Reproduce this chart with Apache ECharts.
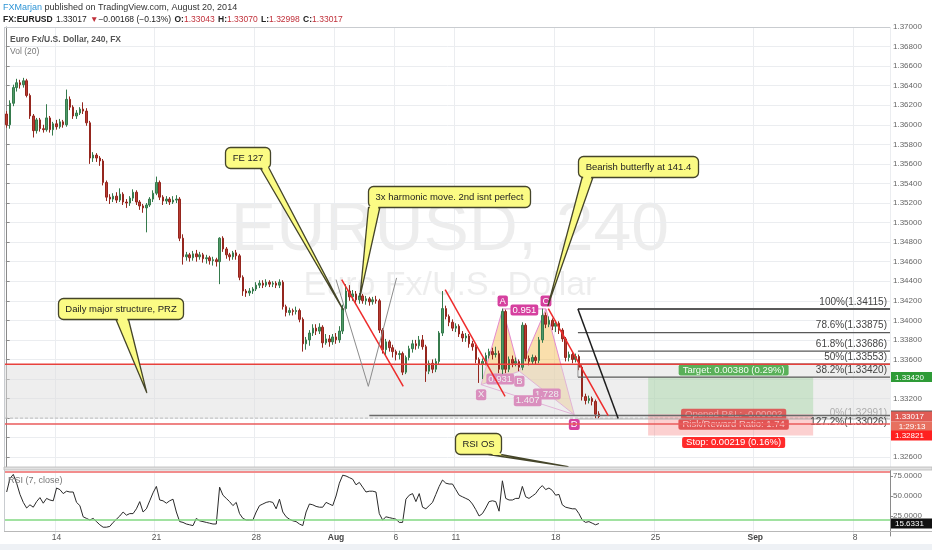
<!DOCTYPE html>
<html><head><meta charset="utf-8">
<script src="https://cdn.jsdelivr.net/npm/echarts@6/dist/echarts.min.js"></script>
<style>html,body{margin:0;padding:0;background:#fff}#c{width:932px;height:550px}</style>
</head><body><div id="c"></div>
<script>
// ---------------- DATA ----------------
const tradingDays = ['2014-07-09','2014-07-10','2014-07-11',
 '2014-07-14','2014-07-15','2014-07-16','2014-07-17','2014-07-18',
 '2014-07-21','2014-07-22','2014-07-23','2014-07-24','2014-07-25',
 '2014-07-28','2014-07-29','2014-07-30','2014-07-31','2014-08-01',
 '2014-08-04','2014-08-05','2014-08-06','2014-08-07','2014-08-08',
 '2014-08-11','2014-08-12','2014-08-13','2014-08-14','2014-08-15',
 '2014-08-18','2014-08-19','2014-08-20','2014-08-21','2014-08-22',
 '2014-08-25','2014-08-26','2014-08-27','2014-08-28','2014-08-29',
 '2014-09-01','2014-09-02','2014-09-03','2014-09-04','2014-09-05',
 '2014-09-08','2014-09-09'];
const barHours = ['00:00','04:00','08:00','12:00','16:00','20:00'];
const firstDayFromSlot = 3;   // first day starts at 12:00
const lastDaySlots = 5;       // last day ends at 16:00
const tickLabels = [['2014-07-14','14'],['2014-07-21','21'],['2014-07-28','28'],['2014-08-01','Aug'],
 ['2014-08-06','6'],['2014-08-11','11'],['2014-08-18','18'],['2014-08-25','25'],['2014-09-01','Sep'],['2014-09-08','8']];

// [open, close, low, high]
const ohlc = [
[1.3611,1.3600,1.3597,1.3614],[1.3600,1.3622,1.3596,1.3625],[1.3622,1.3638,1.3619,1.3641],[1.3638,1.3643,1.3634,1.3647],
[1.3643,1.3641,1.3637,1.3646],[1.3641,1.3645,1.3638,1.3648],[1.3645,1.3630,1.3628,1.3647],[1.3630,1.3609,1.3606,1.3632],
[1.3609,1.3594,1.3587,1.3611],[1.3594,1.3605,1.3591,1.3607],[1.3605,1.3596,1.3593,1.3607],[1.3596,1.3595,1.3592,1.3600],
[1.3595,1.3607,1.3593,1.3621],[1.3607,1.3595,1.3592,1.3609],[1.3595,1.3601,1.3589,1.3603],[1.3601,1.3598,1.3595,1.3605],
[1.3598,1.3603,1.3596,1.3606],[1.3603,1.3600,1.3597,1.3605],[1.3600,1.3626,1.3598,1.3636],[1.3626,1.3618,1.3615,1.3629],
[1.3618,1.3609,1.3606,1.3620],[1.3609,1.3612,1.3606,1.3615],[1.3612,1.3616,1.3610,1.3618],[1.3616,1.3614,1.3611,1.3623],
[1.3614,1.3602,1.3599,1.3617],[1.3602,1.3566,1.3560,1.3604],[1.3566,1.3569,1.3562,1.3572],[1.3569,1.3566,1.3562,1.3571],
[1.3566,1.3563,1.3558,1.3568],[1.3563,1.3541,1.3538,1.3565],[1.3541,1.3526,1.3522,1.3543],[1.3526,1.3524,1.3519,1.3529],
[1.3524,1.3527,1.3521,1.3530],[1.3527,1.3523,1.3520,1.3531],[1.3523,1.3529,1.3521,1.3535],[1.3529,1.3521,1.3518,1.3531],
[1.3521,1.3520,1.3515,1.3524],[1.3520,1.3525,1.3517,1.3527],[1.3525,1.3531,1.3522,1.3534],[1.3531,1.3521,1.3518,1.3533],
[1.3521,1.3517,1.3513,1.3523],[1.3517,1.3515,1.3510,1.3519],[1.3515,1.3518,1.3490,1.3520],[1.3518,1.3524,1.3516,1.3526],
[1.3524,1.3530,1.3521,1.3533],[1.3530,1.3541,1.3528,1.3547],[1.3541,1.3526,1.3523,1.3543],[1.3526,1.3522,1.3518,1.3528],
[1.3522,1.3524,1.3519,1.3527],[1.3524,1.3521,1.3518,1.3526],[1.3521,1.3523,1.3519,1.3527],[1.3523,1.3524,1.3520,1.3528],
[1.3524,1.3484,1.3481,1.3526],[1.3484,1.3465,1.3457,1.3488],[1.3465,1.3467,1.3461,1.3470],[1.3467,1.3464,1.3460,1.3469],
[1.3464,1.3468,1.3461,1.3471],[1.3468,1.3465,1.3460,1.3472],[1.3465,1.3467,1.3462,1.3470],[1.3467,1.3463,1.3459,1.3469],
[1.3463,1.3464,1.3458,1.3467],[1.3464,1.3461,1.3457,1.3466],[1.3461,1.3462,1.3456,1.3465],[1.3462,1.3460,1.3455,1.3464],
[1.3460,1.3484,1.3437,1.3485],[1.3484,1.3473,1.3470,1.3486],[1.3473,1.3467,1.3463,1.3475],[1.3467,1.3465,1.3461,1.3469],
[1.3465,1.3469,1.3462,1.3471],[1.3469,1.3466,1.3462,1.3472],[1.3466,1.3444,1.3441,1.3468],[1.3444,1.3430,1.3425,1.3446],
[1.3430,1.3428,1.3424,1.3432],[1.3428,1.3430,1.3425,1.3433],[1.3430,1.3432,1.3427,1.3434],[1.3432,1.3436,1.3430,1.3439],
[1.3436,1.3438,1.3433,1.3441],[1.3438,1.3436,1.3433,1.3441],[1.3436,1.3439,1.3434,1.3442],[1.3439,1.3437,1.3434,1.3441],
[1.3437,1.3438,1.3434,1.3440],[1.3438,1.3436,1.3433,1.3440],[1.3436,1.3439,1.3433,1.3442],[1.3439,1.3414,1.3411,1.3441],
[1.3414,1.3408,1.3404,1.3416],[1.3408,1.3410,1.3405,1.3413],[1.3410,1.3409,1.3405,1.3412],[1.3409,1.3410,1.3406,1.3414],
[1.3410,1.3401,1.3398,1.3412],[1.3401,1.3376,1.3368,1.3403],[1.3376,1.3380,1.3370,1.3383],[1.3380,1.3387,1.3374,1.3390],
[1.3387,1.3392,1.3384,1.3396],[1.3392,1.3389,1.3385,1.3396],[1.3389,1.3393,1.3386,1.3397],[1.3393,1.3377,1.3372,1.3395],
[1.3377,1.3381,1.3375,1.3386],[1.3381,1.3378,1.3373,1.3385],[1.3378,1.3383,1.3375,1.3386],[1.3383,1.3380,1.3376,1.3387],
[1.3380,1.3389,1.3377,1.3394],[1.3389,1.3412,1.3386,1.3416],[1.3412,1.3430,1.3409,1.3437],[1.3430,1.3424,1.3420,1.3436],
[1.3424,1.3427,1.3420,1.3431],[1.3427,1.3421,1.3418,1.3430],[1.3421,1.3425,1.3417,1.3428],[1.3425,1.3420,1.3417,1.3427],
[1.3420,1.3422,1.3416,1.3425],[1.3422,1.3419,1.3415,1.3424],[1.3419,1.3421,1.3416,1.3424],[1.3421,1.3420,1.3417,1.3425],
[1.3420,1.3390,1.3387,1.3422],[1.3390,1.3370,1.3366,1.3392],[1.3370,1.3378,1.3364,1.3381],[1.3378,1.3372,1.3368,1.3380],
[1.3372,1.3368,1.3362,1.3375],[1.3368,1.3365,1.3359,1.3370],[1.3365,1.3366,1.3360,1.3369],[1.3366,1.3347,1.3344,1.3368],
[1.3347,1.3362,1.3345,1.3364],[1.3362,1.3371,1.3359,1.3374],[1.3371,1.3376,1.3367,1.3380],[1.3376,1.3374,1.3370,1.3380],
[1.3374,1.3380,1.3371,1.3384],[1.3380,1.3373,1.3370,1.3385],[1.3373,1.3348,1.3337,1.3375],[1.3348,1.3356,1.3345,1.3359],
[1.3356,1.3350,1.3346,1.3360],[1.3350,1.3358,1.3347,1.3361],[1.3358,1.3387,1.3355,1.3389],[1.3387,1.3412,1.3384,1.3430],
[1.3412,1.3404,1.3401,1.3415],[1.3404,1.3398,1.3394,1.3406],[1.3398,1.3392,1.3389,1.3401],[1.3392,1.3394,1.3388,1.3397],
[1.3394,1.3386,1.3383,1.3396],[1.3386,1.3382,1.3378,1.3389],[1.3382,1.3384,1.3378,1.3387],[1.3384,1.3376,1.3372,1.3386],
[1.3376,1.3373,1.3369,1.3379],[1.3373,1.3360,1.3356,1.3375],[1.3360,1.3355,1.3336,1.3362],[1.3355,1.3358,1.3340,1.3361],
[1.3358,1.3364,1.3354,1.3367],[1.3364,1.3368,1.3361,1.3371],[1.3368,1.3365,1.3360,1.3372],[1.3365,1.3366,1.3362,1.3373],
[1.3366,1.3350,1.3346,1.3369],[1.3350,1.3409,1.3345,1.3412],[1.3409,1.3350,1.3346,1.3411],[1.3350,1.3360,1.3347,1.3363],
[1.3360,1.3356,1.3352,1.3364],[1.3356,1.3358,1.3353,1.3362],[1.3358,1.3352,1.3348,1.3360],[1.3352,1.3395,1.3349,1.3398],
[1.3395,1.3361,1.3358,1.3397],[1.3361,1.3358,1.3354,1.3364],[1.3358,1.3362,1.3355,1.3365],[1.3362,1.3359,1.3355,1.3364],
[1.3359,1.3380,1.3356,1.3383],[1.3380,1.3405,1.3377,1.3412],[1.3405,1.3396,1.3392,1.3408],[1.3396,1.3400,1.3393,1.3404],
[1.3400,1.3394,1.3390,1.3402],[1.3394,1.3397,1.3388,1.3400],[1.3397,1.3390,1.3386,1.3399],[1.3390,1.3381,1.3378,1.3392],
[1.3381,1.3362,1.3358,1.3383],[1.3362,1.3365,1.3358,1.3368],[1.3365,1.3360,1.3356,1.3367],[1.3360,1.3363,1.3357,1.3366],
[1.3363,1.3352,1.3349,1.3365],[1.3352,1.3322,1.3318,1.3354],[1.3322,1.3318,1.3314,1.3325],[1.3318,1.3320,1.3315,1.3323],
[1.3320,1.3317,1.3313,1.3322],[1.3317,1.3304,1.3300,1.3319],[1.33043,1.33017,1.32998,1.33070]
];

const rsi = [55,72,77,66,52,42,35,39,36,43, 48,41,47,45,44,60,58,53,56,55,
 55,42,38,24,22,20,22,18,14,11, 11,12,17,21,25,30,26,28,28,34,
 43,30,34,44,54,62,45,44,41,44, 46,30,18,17,15,14,13,22,19,18,
 17,16,15,15,61,51,47,43,38,42, 28,22,20,20,20,30,38,40,42,43,
 42,34,46,30,24,21,19,18,15,13, 30,40,39,37,36,36,42,40,38,50,
 66,76,75,73,71,64,67,61,55,56, 56,55,28,20,24,23,22,21,17,17,
 46,51,53,43,53,36,34,38,42,52, 62,70,66,65,65,58,51,49,47,45,
 40,33,25,28,35,43,44,43,31,69, 47,45,45,47,47,62,49,47,50,53,
 59,63,58,60,57,51,52,39,36,35, 34,34,28,20,17,18,16,14,15.6331];
const rsiUpper = 80, rsiLower = 20;

// drawings in data coordinates: [barIndex, price]
const przTop = 1.3355, przBottom = 1.3300, przLow = 1.3294;
const fibLevels = [['100%',1.34115],['78.6%',1.33875],['61.8%',1.33686],['50%',1.33553],['38.2%',1.33420]];
const fibZero = ['0%',1.32991];
const fibExt = ['127.2%',1.33026];
const fibStartBar = 171.7, fibExtStartBar = 109, chartEndBar = 265.5, chartStartBar = -0.5;
const redTrendLines = [[100.7,1.34417,119.2,1.33325],[131.8,1.34314,149.8,1.33223],[162.8,1.34120,180.8,1.33025]];
const grayVLine = [[99.0,1.34417],[108.7,1.33325],[117.2,1.34434]];
const blackDiagonal = [171.7,1.34115,183.8,1.32995];
const patternNames = ['X','A','B','C','D'];
const patternPoints = [[142.6,1.33342],[149.1,1.34117],[154.1,1.33479],[162.1,1.34117],[170.6,1.33036]];
const patternRatios = [['0.931',0,2],['0.951',1,3],['1.728',2,4],['1.407',0,4]];
const callouts = [
 ['FE 127',65.6,1.35777,101.1,1.34110],
 ['3x harmonic move. 2nd isnt perfect',108.6,1.35378,106.2,1.34243],
 ['Bearish butterfly at 141.4',171.7,1.35685,162.7,1.34151],
 ['Daily major structure, PRZ',15.4,1.34233,42.1,1.33261],
 ['RSI OS',134.8,1.32851,168.7,1.32504]
];
const position = {from:192.8, to:242.4, entry:1.3304, target:1.3342, stop:1.32821};
const positionTexts = ['Target: 0.00380 (0.29%)','Opened P&L: -0.00002','Risk/Reward Ratio: 1.74','Stop: 0.00219 (0.16%)'];
const priceTags = [[1.33026,'1.33026'],[1.33420,'1.33420'],[1.33017,'1.33017'],[1.32821,'1.32821']];
const countdownText = '1:29:13';
const rsiLast = 15.6331;

// ---------------- STYLE / BUILD ----------------
const FONT = '"Liberation Sans", Arial, Helvetica, sans-serif';
const categories = [];
tradingDays.forEach((d, di) => {
  const s = di === 0 ? firstDayFromSlot : 0;
  const e = di === tradingDays.length - 1 ? lastDaySlots : 6;
  for (let k = s; k < e; k++) categories.push(d + ' ' + barHours[k]);
});
const tickMap = {};
tickLabels.forEach(t => { tickMap[t[0] + ' 00:00'] = t[1]; });
const isTick = (idx, val) => tickMap[val] !== undefined;

const mctx = document.createElement('canvas').getContext('2d');
function tw(t, font) { mctx.font = font; return mctx.measureText(t).width; }

const tagColors = ['#5a5a5a','#2e9b37','#e05c55','#ff2020'];
const YELLOW = '#fbfb84', YBORDER = '#45452a';
const PINK = '#d6409f', PINK_EDGE = 'rgba(226,132,206,0.95)';

function lineEl(a, b, stroke, w, dash) {
  return {type:'line', shape:{x1:a[0], y1:a[1], x2:b[0], y2:b[1]}, style:{stroke, lineWidth:w, lineDash: dash || null}};
}

const chart = echarts.init(document.getElementById('c'));
const option = {
  animation: false,
  backgroundColor: '#fff',
  grid: [
    {left:5, right:42, top:27, height:440, outerBoundsMode:'none'},
    {left:5, right:42, top:469, height:67, outerBoundsMode:'none'}
  ],
  xAxis: [
    {type:'category', gridIndex:0, data:categories, boundaryGap:true,
     axisLine:{show:false}, axisTick:{show:false}, axisLabel:{show:false},
     splitLine:{show:true, interval:isTick, lineStyle:{color:'#ebedf0', width:1}}},
    {type:'category', gridIndex:1, data:categories, boundaryGap:true,
     axisLine:{show:false}, axisTick:{show:false},
     axisLabel:{interval:isTick, margin:-3, color:'#555', fontSize:8.5, fontFamily:FONT,
       formatter: v => { const l = tickMap[v]; return (l === 'Aug' || l === 'Sep') ? '{b|' + l + '}' : l; },
       rich:{b:{fontWeight:'bold', color:'#444', fontSize:8.5, fontFamily:FONT}}},
     splitLine:{show:true, interval:isTick, lineStyle:{color:'#ebedf0', width:1}}},
    {type:'value', gridIndex:0, min:chartStartBar, max:chartEndBar, show:false}
  ],
  yAxis: [
    {type:'value', gridIndex:0, position:'right', min:1.325, max:1.370, splitNumber:22, scale:true,
     axisLine:{show:true, lineStyle:{color:'#8a8a8a'}}, axisTick:{show:true, length:3, lineStyle:{color:'#8a8a8a'}},
     axisLabel:{showMinLabel:false, margin:3, color:'#666', fontSize:8, fontFamily:FONT, formatter:v => v.toFixed(5)},
     splitLine:{show:true, lineStyle:{color:'#ebedf0'}}},
    {type:'value', gridIndex:1, position:'right', min:0, max:83.75, interval:25,
     axisLine:{show:true, lineStyle:{color:'#8a8a8a'}}, axisTick:{show:true, length:3, lineStyle:{color:'#8a8a8a'}},
     axisLabel:{showMinLabel:false, showMaxLabel:false, margin:3, color:'#666', fontSize:8, fontFamily:FONT, formatter:v => v.toFixed(4)},
     splitLine:{show:false}}
  ],
  graphic: [
    {type:'text', z:10, x:3, y:8, style:{text:'{u|FXMarjan}{t| published on TradingView.com, August 20, 2014}', verticalAlign:'middle',
      rich:{u:{fill:'#2f95d6', fontSize:9, fontFamily:FONT}, t:{fill:'#333', fontSize:9, fontFamily:FONT}}}},
    {type:'text', z:10, x:3, y:20, style:{verticalAlign:'middle',
      text:'{b|FX:EURUSD} {t|1.33017} {r|▼}{t|\u22120.00168 (\u22120.13%)} {b|O:}{r|1.33043} {b|H:}{r|1.33070} {b|L:}{r|1.32998} {b|C:}{r|1.33017}',
      rich:{b:{fill:'#222', fontWeight:'bold', fontSize:8.5, fontFamily:FONT}, t:{fill:'#222', fontSize:8.5, fontFamily:FONT}, r:{fill:'#c0303a', fontSize:8.5, fontFamily:FONT}}}},
    {type:'text', z:0, x:450, y:231, style:{text:'EURUSD, 240', align:'center', verticalAlign:'middle', font:'68px ' + FONT, fill:'rgba(0,0,0,0.07)'}},
    {type:'text', z:0, x:450, y:286, style:{text:'Euro Fx/U.S. Dollar', align:'center', verticalAlign:'middle', font:'34px ' + FONT, fill:'rgba(0,0,0,0.07)'}},
    {type:'text', z:10, x:10, y:40, style:{text:'Euro Fx/U.S. Dollar, 240, FX', verticalAlign:'middle', font:'bold 8.5px ' + FONT, fill:'#555'}},
    {type:'text', z:10, x:10, y:52, style:{text:'Vol (20)', verticalAlign:'middle', font:'8.5px ' + FONT, fill:'#777'}},
    {type:'text', z:10, x:8, y:481, style:{text:'RSI (7, close)', verticalAlign:'middle', font:'9px ' + FONT, fill:'#777'}},
    {type:'line', z:10, shape:{x1:4, y1:27.5, x2:890, y2:27.5}, style:{stroke:'#c9ccd0', lineWidth:1}},
    {type:'line', z:10, shape:{x1:4.5, y1:27, x2:4.5, y2:531}, style:{stroke:'#c9ccd0', lineWidth:1}},
    {type:'rect', z:10, shape:{x:4, y:467, width:928, height:3}, style:{fill:'#e2e2e2', stroke:'#b8b8b8', lineWidth:0.8}},
    {type:'line', z:10, shape:{x1:4, y1:531.5, x2:932, y2:531.5}, style:{stroke:'#b8b8b8', lineWidth:1}},
    {type:'rect', z:10, shape:{x:0, y:544, width:932, height:6}, style:{fill:'#eef1f5'}}
  ],
  series: [
    // harmonic butterfly pattern (under the PRZ band)
    {type:'custom', name:'pattern', xAxisIndex:2, yAxisIndex:0, z:1, silent:true, data:[[patternPoints[0][0], patternPoints[0][1]]],
     renderItem:(params, api) => {
       const P = patternPoints.map(p => api.coord(p));
       const ch = [];
       ch.push({type:'polygon', shape:{points:[P[0],P[1],P[2]]}, style:{fill:'rgba(245,185,70,0.45)', stroke:PINK_EDGE, lineWidth:1}});
       ch.push({type:'polygon', shape:{points:[P[2],P[3],P[4]]}, style:{fill:'rgba(245,185,70,0.45)', stroke:PINK_EDGE, lineWidth:1}});
       ch.push(lineEl(P[1], P[3], PINK_EDGE, 1));
       ch.push(lineEl(P[0], P[4], PINK_EDGE, 1));
       const font = '9.5px ' + FONT;
       patternRatios.forEach(r => {
         const a = P[r[1]], b = P[r[2]];
         ch.push({type:'text', style:{text:r[0], x:(a[0]+b[0])/2, y:(a[1]+b[1])/2 + 1, align:'center', verticalAlign:'middle', font, fill:'#fff', backgroundColor:PINK, padding:[1,2,0,2], borderRadius:2}});
       });
       patternNames.forEach((n, k) => {
         const up = (k === 1 || k === 3);
         ch.push({type:'text', style:{text:n, x:P[k][0], y:P[k][1] + (up ? -8 : 10), align:'center', verticalAlign:'middle', font, fill:'#fff', backgroundColor:PINK, padding:[1,2,0,2], borderRadius:2}});
       });
       return {type:'group', children:ch};
     }},
    // PRZ band + horizontal levels
    {type:'custom', name:'prz', xAxisIndex:2, yAxisIndex:0, z:2, silent:true, data:[[chartStartBar, przTop]],
     renderItem:(params, api) => {
       const a = api.coord([chartStartBar, przTop]), b = api.coord([chartEndBar, przBottom]);
       return {type:'group', children:[
         {type:'rect', shape:{x:a[0], y:a[1], width:b[0]-a[0], height:b[1]-a[1]}, style:{fill:'rgba(222,222,222,0.5)'}},
         lineEl([a[0], b[1]], [b[0], b[1]], '#bdbdbd', 1, [3,2])
       ]};
     }},
    // position tool rects and labels
    {type:'custom', name:'position', xAxisIndex:2, yAxisIndex:0, z:3, silent:true, data:[[position.from, position.entry]],
     renderItem:(params, api) => {
       const t = api.coord([position.from, position.target]), e = api.coord([position.to, position.entry]), s = api.coord([position.to, position.stop]);
       const x1 = t[0], x2 = e[0], mid = (x1 + x2) / 2 + 3;
       const font = '9.5px ' + FONT;
       const box = (txt, y, bg, fg) => ({type:'text', style:{text:txt, x:mid, y, align:'center', verticalAlign:'middle', font, fill:fg, backgroundColor:bg, padding:[1,4,0,4], borderRadius:2}});
       return {type:'group', children:[
         {type:'rect', shape:{x:x1, y:t[1], width:x2-x1, height:e[1]-t[1]}, style:{fill:'rgba(120,200,120,0.28)'}},
         {type:'rect', shape:{x:x1, y:e[1], width:x2-x1, height:s[1]-e[1]}, style:{fill:'rgba(245,110,110,0.32)'}},
         box(positionTexts[0], t[1] - 7, 'rgba(76,170,76,0.92)', '#f2fff2'),
         box(positionTexts[1], e[1], 'rgba(222,70,70,0.85)', 'rgba(255,230,230,0.55)'),
         box(positionTexts[2], e[1] + 10, 'rgba(222,70,70,0.9)', 'rgba(255,235,235,0.75)'),
         box(positionTexts[3], s[1] + 7, '#ff2a2a', '#fff')
       ]};
     }},
    // candles
    {type:'candlestick', name:'EURUSD', xAxisIndex:0, yAxisIndex:0, z:4, data:ohlc, barWidth:2,
     itemStyle:{color:'#4f9966', color0:'#b83c33', borderColor:'#357a4c', borderColor0:'#95261e', borderWidth:1}},
    // fib retracement
    {type:'custom', name:'fib', xAxisIndex:2, yAxisIndex:0, z:5, silent:true, data:[[fibStartBar, fibLevels[0][1]]],
     renderItem:(params, api) => {
       const ch = [];
       const font = '10px ' + FONT;
       const xr = api.coord([chartEndBar, 0])[0];
       fibLevels.forEach(f => {
         const a = api.coord([fibStartBar, f[1]]);
         ch.push(lineEl(a, [xr, a[1]], '#595959', f[0] === '100%' ? 2 : 1.3));
         ch.push({type:'text', style:{text:f[0] + '(' + f[1].toFixed(5) + ')', x:xr - 3, y:a[1] - 2, align:'right', verticalAlign:'bottom', font, fill:'#444'}});
       });
       const v1 = api.coord([fibStartBar, fibLevels[4][1]]), v2 = api.coord([fibStartBar, fibLevels[3][1]]);
       ch.push(lineEl(v1, v2, '#999', 1));
       const z0 = api.coord([fibStartBar, fibZero[1]]);
       ch.push(lineEl(z0, [xr, z0[1]], '#b0b0b0', 1));
       ch.push({type:'text', style:{text:fibZero[0] + '(' + fibZero[1].toFixed(5) + ')', x:xr - 3, y:z0[1] - 1, align:'right', verticalAlign:'bottom', font, fill:'rgba(90,90,90,0.45)'}});
       const ex = api.coord([fibExtStartBar, fibExt[1]]);
       ch.push(lineEl(ex, [xr, ex[1]], '#6a6a6a', 1.5));
       ch.push({type:'text', style:{text:fibExt[0] + '(' + fibExt[1].toFixed(5) + ')', x:xr - 3, y:ex[1] + 7, align:'right', verticalAlign:'middle', font, fill:'#444'}});
       return {type:'group', children:ch};
     }},
    // trend lines, V, black diagonal, red PRZ lines
    {type:'custom', name:'lines', xAxisIndex:2, yAxisIndex:0, z:5, silent:true, data:[[chartStartBar, przTop]],
     renderItem:(params, api) => {
       const ch = [];
       const l = api.coord([chartStartBar, przTop]), r = api.coord([chartEndBar, przTop]);
       ch.push(lineEl(l, r, '#e8413c', 1.5));
       const l2 = api.coord([chartStartBar, przLow]), r2 = api.coord([chartEndBar, przLow]);
       ch.push(lineEl(l2, r2, '#ea5b5b', 1.5));
       redTrendLines.forEach(s => ch.push(lineEl(api.coord([s[0], s[1]]), api.coord([s[2], s[3]]), '#ee2b2b', 1.5)));
       ch.push({type:'polyline', shape:{points:grayVLine.map(p => api.coord(p))}, style:{stroke:'#8c8c8c', lineWidth:1, fill:null}});
       ch.push(lineEl(api.coord([blackDiagonal[0], blackDiagonal[1]]), api.coord([blackDiagonal[2], blackDiagonal[3]]), '#1e1e1e', 1.5));
       return {type:'group', children:ch};
     }},
    // callouts
    {type:'custom', name:'callouts', xAxisIndex:2, yAxisIndex:0, z:6, silent:true, data:callouts.map(c => [c[1], c[2]]),
     renderItem:(params, api) => {
       const tails = [[0.78,0.97],[0.0,0.07],[0.03,0.12],[0.46,0.56],[0.72,0.98]];
       const c = callouts[params.dataIndex], tl = tails[params.dataIndex];
       const p = api.coord([c[1], c[2]]), tip = api.coord([c[3], c[4]]);
       const font = '9.5px ' + FONT;
       const w = Math.round(tw(c[0], font) + 14), h = 21;
       const x = Math.round(p[0]) + 0.5, y = Math.round(p[1]) + 0.5;
       const b1 = [x + w * tl[0], y + h], b2 = [x + w * tl[1], y + h];
       const along = (b, k) => { const dx = tip[0]-b[0], dy = tip[1]-b[1], L = Math.hypot(dx, dy); return [b[0] + dx*k/L, b[1] + dy*k/L]; };
       const c1 = along(b1, 3), c2 = along(b2, 3);
       return {type:'group', children:[
         {type:'polygon', shape:{points:[b1, tip, b2]}, style:{fill:YELLOW, stroke:YBORDER, lineWidth:1.3, lineJoin:'round'}},
         {type:'rect', shape:{x, y, width:w, height:h, r:5}, style:{fill:YELLOW, stroke:YBORDER, lineWidth:1.3}},
         {type:'polygon', shape:{points:[[b1[0]+1.2, b1[1]-2], [b2[0]-1.2, b2[1]-2], [c2[0]-(c2[0]-c1[0])*0.15, c2[1]], [c1[0]+(c2[0]-c1[0])*0.15, c1[1]]]}, style:{fill:YELLOW}},
         {type:'text', style:{text:c[0], x:x + w/2, y:y + h/2 + 0.5, align:'center', verticalAlign:'middle', font, fill:'#222'}}
       ]};
     }},
    // price tags on the right axis
    {type:'custom', name:'tags', xAxisIndex:2, yAxisIndex:0, z:7, silent:true, data:priceTags.map(t => [chartEndBar, t[0]]),
     renderItem:(params, api) => {
       const t = priceTags[params.dataIndex];
       const p = api.coord([chartEndBar, t[0]]);
       const x = p[0] + 1, h = 10;
       const font = '8px ' + FONT;
       const ch = [
         {type:'rect', shape:{x, y:p[1] - h/2, width:42, height:h}, style:{fill:tagColors[params.dataIndex]}},
         {type:'text', style:{text:t[1], x:x + 4, y:p[1] + 0.5, verticalAlign:'middle', font, fill:'#fff'}}
       ];
       if (params.dataIndex === 2) {
         ch.push({type:'rect', shape:{x, y:p[1] + h/2, width:42, height:h}, style:{fill:'#e7705f'}});
         ch.push({type:'text', style:{text:countdownText, x:x + 21, y:p[1] + h + 0.5, align:'center', verticalAlign:'middle', font, fill:'#fff'}});
       }
       return {type:'group', children:ch};
     }},
    // RSI
    {type:'line', name:'RSI', xAxisIndex:1, yAxisIndex:1, z:4, data:rsi, symbol:'none', lineStyle:{color:'#2a2a2a', width:1},
     markLine:{silent:true, symbol:'none', label:{show:false}, animation:false,
       data:[{yAxis:rsiUpper, lineStyle:{color:'#f28d8d', width:2, type:'solid'}}, {yAxis:rsiLower, lineStyle:{color:'#82d982', width:1.5, type:'solid'}}]}},
    {type:'custom', name:'rsiTag', xAxisIndex:1, yAxisIndex:1, z:7, silent:true, data:[[0, rsiLast]],
     renderItem:(params, api) => {
       const y = api.coord([0, rsiLast])[1];
       const x = api.getWidth() - 41;
       return {type:'group', children:[
         {type:'rect', shape:{x, y:y - 5, width:41, height:10}, style:{fill:'#111'}},
         {type:'text', style:{text:rsiLast.toFixed(4), x:x + 4, y:y + 0.5, verticalAlign:'middle', font:'8px ' + FONT, fill:'#fff'}}
       ]};
     }}
  ]
};
chart.setOption(option);
</script>
</body></html>
